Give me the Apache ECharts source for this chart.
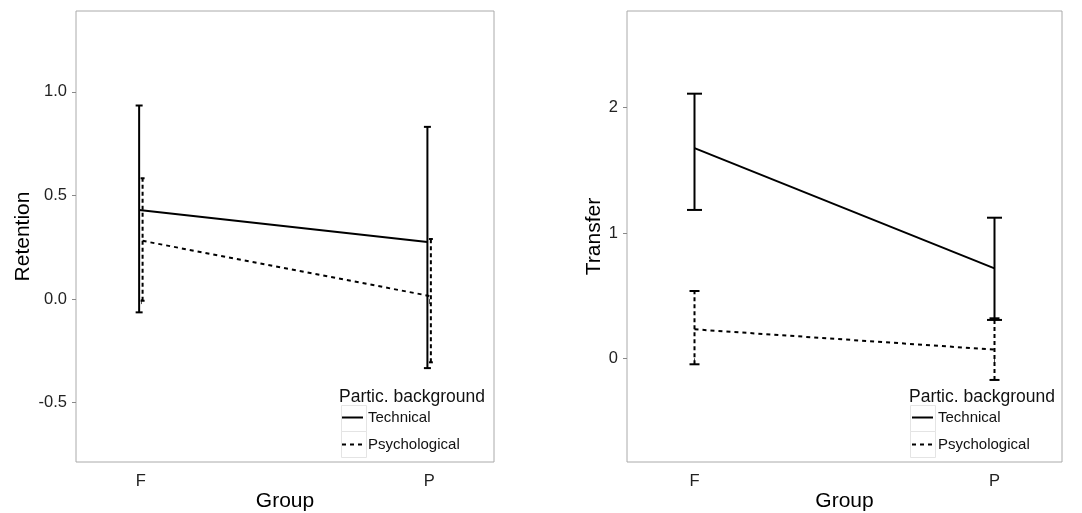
<!DOCTYPE html>
<html style="height: 100%">
<head>
    <meta charset="utf-8">
    <script src="https://cdn.jsdelivr.net/npm/echarts@6/dist/echarts.min.js"></script>
</head>
<body style="height: 100%; margin: 0; background: #fff">
    <div id="container" style="width: 1082px; height: 513px"></div>
    <script type="text/javascript">

        // groups on the x axis (F = 1, P = 2)
        let groups = ['F', 'P'];
        let groupPos = [1, 2];
        let backgrounds = ['Technical', 'Psychological'];

        // Retention panel: means and error bar limits
        let retTechMean = [0.43, 0.276];
        let retTechLow = [-0.064, -0.333];
        let retTechHigh = [0.934, 0.831];
        let retPsyMean = [0.281, 0.014];
        let retPsyLow = [-0.008, -0.305];
        let retPsyHigh = [0.583, 0.29];
        let retTicks = [-0.5, 0, 0.5, 1];

        // Transfer panel
        let trTechMean = [1.678, 0.718];
        let trTechLow = [1.184, 0.306];
        let trTechHigh = [2.112, 1.122];
        let trPsyMean = [0.231, 0.069];
        let trPsyLow = [-0.048, -0.173];
        let trPsyHigh = [0.537, 0.319];
        let trTicks = [0, 1, 2];

        const font = 'Liberation Sans, Arial, sans-serif';

        function pts(mean, shift) {
            return groupPos.map((g, i) => [g + shift, mean[i]]);
        }
        function bars(low, high, shift) {
            return groupPos.map((g, i) => [g + shift, low[i], high[i]]);
        }

        function errorSeries(name, idx, data, dashed, cap) {
            return {
                type: 'custom', name: name, xAxisIndex: idx, yAxisIndex: idx,
                data: data, z: 3,
                renderItem: function (params, api) {
                    let x = api.value(0);
                    let lo = api.coord([x, api.value(1)]);
                    let hi = api.coord([x, api.value(2)]);
                    let style = { stroke: '#000', lineWidth: 2, lineDash: dashed ? [4, 3] : null };
                    return {
                        type: 'group', children: [
                            { type: 'line', shape: { x1: lo[0], y1: lo[1], x2: hi[0], y2: hi[1] }, style: style },
                            { type: 'line', shape: { x1: hi[0] - cap, y1: hi[1], x2: hi[0] + cap, y2: hi[1] }, style: { stroke: '#000', lineWidth: 2 } },
                            { type: 'line', shape: { x1: lo[0] - cap, y1: lo[1], x2: lo[0] + cap, y2: lo[1] }, style: { stroke: '#000', lineWidth: 2 } }
                        ]
                    };
                }
            };
        }

        function lineSeries(name, idx, data, dashed) {
            return {
                type: 'line', name: name, xAxisIndex: idx, yAxisIndex: idx,
                data: data, symbol: 'none', z: 4,
                lineStyle: { color: '#000', width: 2, type: dashed ? [4, 4] : 'solid' },
                itemStyle: { color: '#000' }
            };
        }

        function yAxis(idx, name, min, max, ticks, gap, fmt) {
            return {
                type: 'value', gridIndex: idx, min: min, max: max,
                name: name, nameLocation: 'middle', nameGap: gap,
                nameTextStyle: { fontFamily: font, fontSize: 21, color: '#000' },
                axisLine: { show: false },
                splitLine: { show: false },
                axisTick: { show: true, length: 4, lineStyle: { color: '#888' }, customValues: ticks },
                axisLabel: { fontFamily: font, fontSize: 16.5, color: '#222', margin: 9, customValues: ticks, formatter: fmt }
            };
        }

        function xAxis(idx) {
            return {
                type: 'value', gridIndex: idx, min: 0.775, max: 2.225,
                name: 'Group', nameLocation: 'middle', nameGap: 29, nameMoveOverlap: false,
                nameTextStyle: { fontFamily: font, fontSize: 21, color: '#000' },
                axisLine: { show: false },
                splitLine: { show: false },
                axisTick: { show: true, length: 5, lineStyle: { color: '#555' }, customValues: groupPos },
                axisLabel: {
                    fontFamily: font, fontSize: 16.5, color: '#222', margin: 11, customValues: groupPos,
                    formatter: v => groups[groupPos.indexOf(v)]
                }
            };
        }

        function legend(left) {
            return {
                data: backgrounds, orient: 'vertical', left: left, top: 410, padding: 0,
                itemWidth: 21, itemHeight: 14, itemGap: 12,
                itemStyle: { opacity: 0 },
                textStyle: { fontFamily: font, fontSize: 15, color: '#111' },
                selectedMode: false
            };
        }

        function keyBoxes(x) {
            return [0, 1].map(i => ({
                type: 'rect', left: x, top: 403 + i * 26,
                shape: { width: 25, height: 26 },
                style: { fill: 'none', stroke: '#e4e4e4', lineWidth: 1 }
            }));
        }

        let titleStyle = { fontFamily: font, fontSize: 17.5, fontWeight: 'normal', color: '#111' };

        let chart = echarts.init(document.getElementById('container'));
        chart.setOption({
            backgroundColor: '#fff',
            animation: false,
            grid: [
                { left: 76, top: 11, width: 418, height: 451, outerBoundsMode: 'none', show: true, borderColor: '#aaa', borderWidth: 1, backgroundColor: '#fff' },
                { left: 627, top: 11, width: 435, height: 451, outerBoundsMode: 'none', show: true, borderColor: '#aaa', borderWidth: 1, backgroundColor: '#fff' }
            ],
            xAxis: [xAxis(0), xAxis(1)],
            yAxis: [
                yAxis(0, 'Retention', -0.786, 1.39, retTicks, 42, v => v.toFixed(1)),
                yAxis(1, 'Transfer', -0.828, 2.772, trTicks, 22, v => String(v))
            ],
            title: [
                { text: 'Partic. background', left: 334, top: 383, textStyle: titleStyle },
                { text: 'Partic. background', left: 904, top: 383, textStyle: titleStyle }
            ],
            legend: [legend(341), legend(911)],
            graphic: keyBoxes(339).concat(keyBoxes(908)),
            series: [
                lineSeries('Technical', 0, pts(retTechMean, -0.006), false),
                lineSeries('Psychological', 0, pts(retPsyMean, 0.006), true),
                errorSeries('Technical SE', 0, bars(retTechLow, retTechHigh, -0.006), false, 3.5),
                errorSeries('Psychological SE', 0, bars(retPsyLow, retPsyHigh, 0.006), true, 2),
                lineSeries('Technical', 1, pts(trTechMean, 0), false),
                lineSeries('Psychological', 1, pts(trPsyMean, 0), true),
                errorSeries('Technical SE', 1, bars(trTechLow, trTechHigh, 0), false, 7.5),
                errorSeries('Psychological SE', 1, bars(trPsyLow, trPsyHigh, 0), true, 5)
            ]
        });
    </script>
</body>
</html>
